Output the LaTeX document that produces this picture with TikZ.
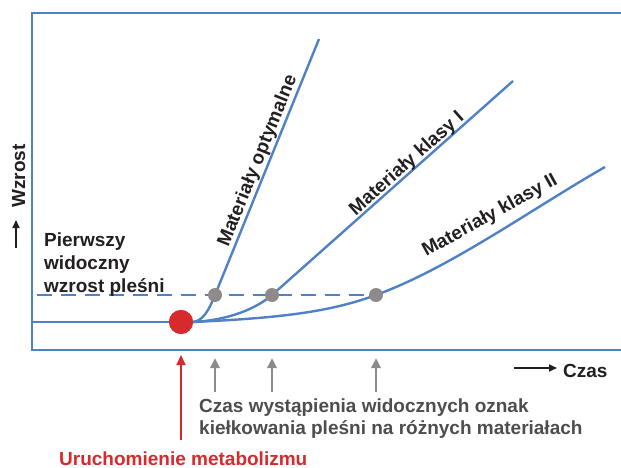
\documentclass[tikz,border=0pt]{standalone}
\usepackage{fontspec}
\setmainfont{Liberation Sans}
\usetikzlibrary{arrows.meta}

\definecolor{lineblue}{HTML}{4F81C4}
\definecolor{dotred}{HTML}{D62A2C}
\definecolor{dotgray}{HTML}{8E8A8A}
\definecolor{textgray}{HTML}{4D4D4F}
\definecolor{textblack}{HTML}{231F20}

\begin{document}
\begin{tikzpicture}[
x=1pt, y=-1pt,
every node/.style={
    font=\fontsize{19}{23}\selectfont\bfseries,
    text=textblack,
    inner sep=0pt
},
frameline/.style={draw=lineblue, line width=2.8pt},
growth/.style={draw=lineblue, line width=2.4pt},
levelline/.style={draw=lineblue, line width=2.4pt, dash pattern=on 15pt off 9pt},
graydot/.style={circle, fill=dotgray, minimum size=14pt},
reddot/.style={circle, fill=dotred, minimum size=24pt},
markarrow/.style={draw=dotgray, line width=2.5pt, -{Triangle[length=10pt,width=9pt]}},
startarrow/.style={draw=dotred, line width=2.2pt, -{Triangle[length=10pt,width=9pt]}},
axisarrow/.style={draw=textblack, line width=1.6pt, -{Triangle[length=8pt,width=7pt]}},
curvelabel/.style={anchor=center}
]
\useasboundingbox (0,0) rectangle (621,468);

% axes, open on the right
\draw[frameline] (621,13) -- (32,13) -- (32,350) -- (621,350);

% points
\node[reddot] (start) at (181,322) {};
\coordinate (optend) at (319,39);
\coordinate (oneend) at (513,81);
\coordinate (twoend) at (605,167);

% level of first visible growth
\draw[levelline] (37,295) -- (376,295);
\draw[growth] (32,322) -- (start.center);

% growth curves
\draw[growth] (start.center) -- (193,322) .. controls (203,321) and (209,310) .. (215,295) -- (optend);
\draw[growth] (start.center) -- (193,322) .. controls (230,320) and (257,308) .. (272,295) -- (oneend);
\draw[growth] (start.center) -- (193,322) .. controls (280,318) and (330,312) .. (376,295)
    .. controls (450,268) and (530,210) .. (twoend);

\node[graydot] (topt) at (215,295) {};
\node[graydot] (tone) at (272,295) {};
\node[graydot] (ttwo) at (376,295) {};
\node[reddot] at (start) {};

% curve labels
\node[curvelabel, rotate=68] (optlabel) at (258,161) {Materiały optymalne};
\node[curvelabel, rotate=41.6] (onelabel) at (407,164) {Materiały klasy I};
\node[curvelabel, rotate=29] (twolabel) at (490,216) {Materiały klasy II};

\node[anchor=base west, align=left] (level) at (44,292) {Pierwszy\\widoczny\\wzrost pleśni};

% axis names
\node[anchor=base, rotate=90] (ylabel) at (25,176) {Wzrost};
\coordinate (yfrom) at (16,248);
\coordinate (yto) at (16,220);
\draw[axisarrow] (yfrom) -- (yto);

\node[anchor=base west] (xlabel) at (563,377) {Czas};
\coordinate (xfrom) at (514,368);
\coordinate (xto) at (557,368);
\draw[axisarrow] (xfrom) -- (xto);

% times of first visible growth
\foreach \name/\xx in {topt/215, tone/272, ttwo/376} {
    \coordinate (\name low) at (\xx,392);
    \coordinate (\name high) at (\xx,358);
    \draw[markarrow] (\name low) -- (\name high);
}
\node[anchor=base west, align=left, text=textgray,
      font=\fontsize{19}{22}\selectfont\bfseries] (times) at (199,434)
    {Czas wystąpienia widocznych oznak\\kiełkowania pleśni na różnych materiałach};

% start of metabolism
\coordinate (startlow) at (181,440);
\coordinate (starthigh) at (181,355);
\draw[startarrow] (startlow) -- (starthigh);
\node[anchor=base west, text=dotred] (metab) at (59,465) {Uruchomienie metabolizmu};
\end{tikzpicture}
\end{document}
